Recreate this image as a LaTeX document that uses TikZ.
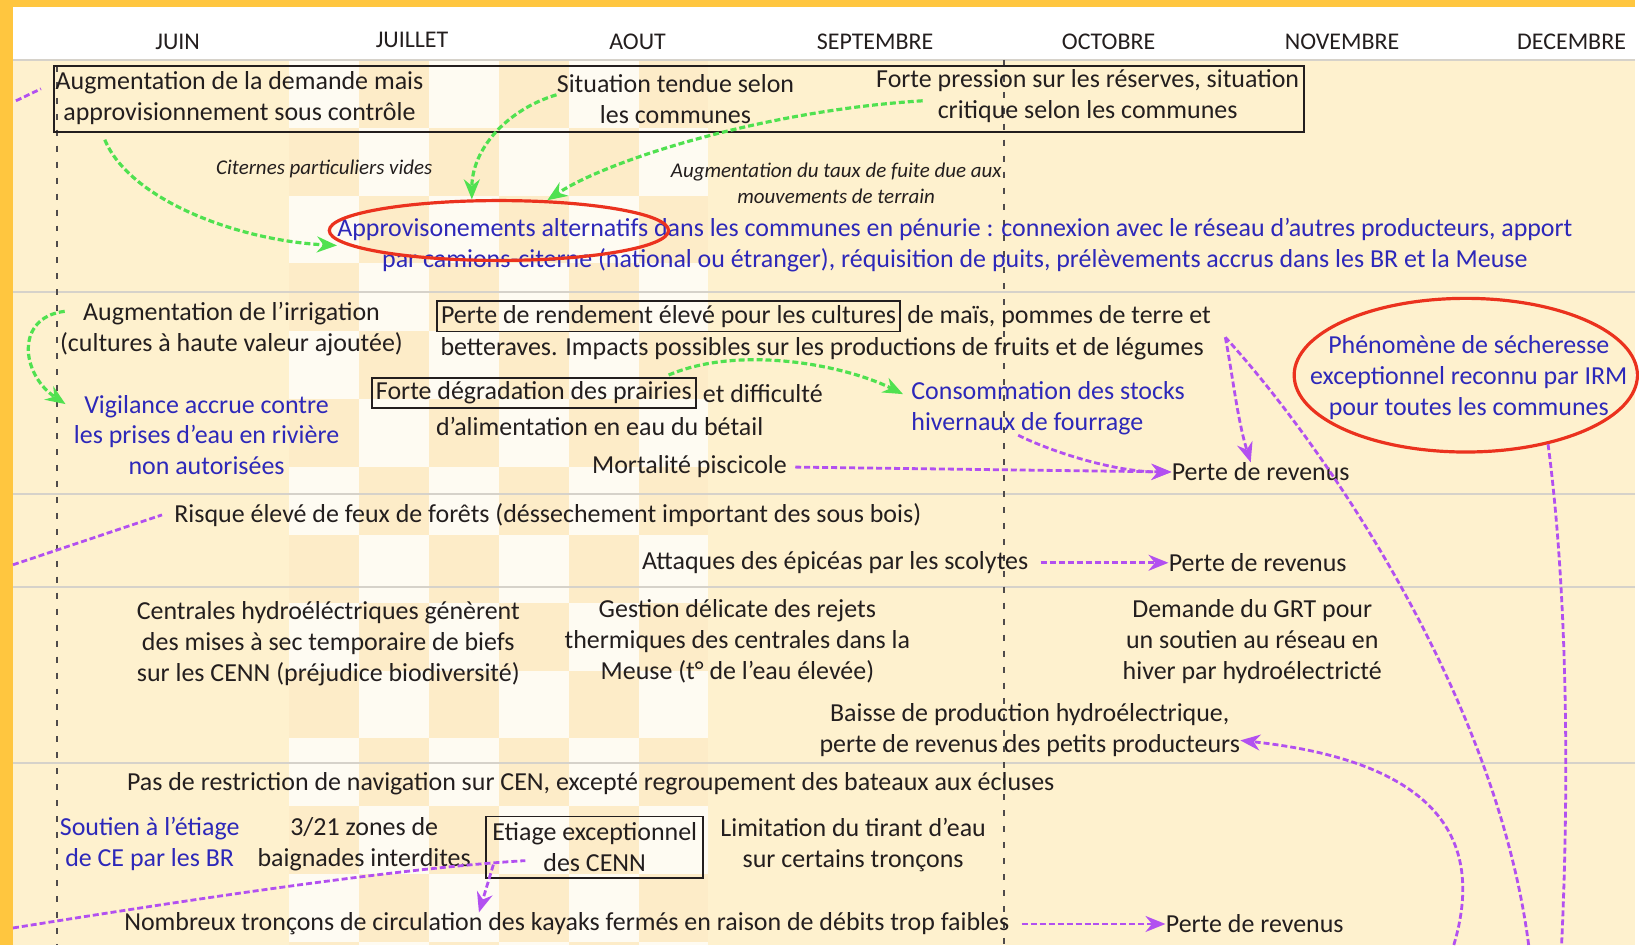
\documentclass[tikz,border=0pt]{standalone}
\usepackage{fontspec}
\setmainfont{Carlito}
\usepackage{tikz}
\usetikzlibrary{arrows.meta,positioning,shapes.geometric,calc}

\definecolor{jaune}{RGB}{255,198,63}
\definecolor{beige}{RGB}{254,241,206}
\definecolor{beigefonce}{RGB}{253,236,200}
\definecolor{trait}{RGB}{214,210,202}
\definecolor{encre}{RGB}{35,30,30}
\definecolor{bleuf}{RGB}{45,40,185}
\definecolor{vertclair}{RGB}{80,225,80}
\definecolor{violetf}{RGB}{178,80,240}
\definecolor{rougef}{RGB}{235,50,30}

\begin{document}
\begin{tikzpicture}[x=0.5pt, y=-0.5pt,
    txt/.style={align=center, inner sep=0pt, text=encre, font=\fontsize{13}{15.5}\selectfont},
    bleu/.style={txt, text=bleuf},
    cadre/.style={draw=encre, line width=0.9pt, inner sep=2pt},
    mois/.style={font=\fontsize{12}{14}\selectfont, text=encre},
    petit/.style={txt, font=\fontsize{10.5}{13}\selectfont\itshape},
    lienvert/.style={dash pattern=on 3pt off 1.5pt, line width=1.6pt, draw=vertclair},
    lienviolet/.style={dash pattern=on 3pt off 1.5pt, line width=1.4pt, draw=violetf},
    fleche/.style={-{Stealth[length=10pt,width=8pt]}},
    rouge/.style={draw=rougef, line width=1.6pt},
    pointille/.style={draw=encre!80, line width=1.1pt, dash pattern=on 3pt off 5pt}
]
    % Fond
    \fill[jaune] (0,0) rectangle (1639,947);
    \fill[white] (13,7) rectangle (1639,60);
    \fill[beige] (13,60) rectangle (1639,947);
    \begin{scope}
        \clip (13,60) rectangle (1639,947);
        \foreach \i in {0,...,5}{
            \foreach \j in {0,...,13}{
                \pgfmathtruncatemacro\p{mod(\i+\j,2)}
                \ifnum\p=0
                    \fill[white, opacity=0.75] (290+70*\i,60+68*\j) rectangle +(70,68);
                \else
                    \fill[beigefonce] (290+70*\i,60+68*\j) rectangle +(70,68);
                \fi
            }
        }
    \end{scope}
    \foreach \y in {60,293,495,588,765}
        \draw[trait, line width=1pt] (13,\y) -- (1639,\y);
    \draw[pointille] (57,66) -- (57,947);
    \draw[pointille] (1006,60) -- (1006,947);

    % Mois
    \node[mois] (juin) at (178,42) {JUIN};
    \node[mois] (juillet) at (413,40) {JUILLET};
    \node[mois] (aout) at (639,42) {AOUT};
    \node[mois] (septembre) at (877,42) {SEPTEMBRE};
    \node[mois] (octobre) at (1111,42) {OCTOBRE};
    \node[mois] (novembre) at (1345,42) {NOVEMBRE};
    \node[mois] (decembre) at (1575,42) {DECEMBRE};

    % Eau potable
    \node[cadre, minimum width=626.5pt, minimum height=33pt, inner sep=0pt] (cadre1) at (680.5,99) {};
    \node[txt] (demande) at (240,98) {Augmentation de la demande mais\\approvisionnement sous contrôle};
    \node[txt] (tendue) at (677,99) {Situation tendue selon\\les communes};
    \node[txt] (pression) at (1090,96) {Forte pression sur les réserves, situation\\critique selon les communes};
    \node[petit] (citernes) at (325,169) {Citernes particuliers vides};
    \node[petit] (fuite) at (838,184) {Augmentation du taux de fuite due aux\\mouvements de terrain};
    \node[bleu] (alternatifs) at (957,246) {Approvisonements alternatifs dans les communes en pénurie : connexion avec le réseau d'autres producteurs, apport\\par camions-citerne (national ou étranger), réquisition de puits, prélèvements accrus dans les BR et la Meuse};
    \node[ellipse, rouge, minimum width=170pt, minimum height=30pt, inner sep=0pt] (cercle) at (500,231) {};
    \coordinate (bordA) at (16,101);
    \draw[lienviolet] (bordA) -- ([shift={(-12,-10)}]cadre1.west);
    \draw[lienvert, fleche] ([shift={(-135,15)}]demande.south) .. controls +(25,60) and +(-100,-5) .. (alternatifs.west);
    \draw[lienvert, fleche] ([yshift=2pt]tendue.west) .. controls +(-50,15) and +(0,-50) .. (cercle.131);
    \draw[lienvert, fleche] ([shift={(47,5)}]pression.west) .. controls +(-160,10) and +(60,-40) .. (cercle.32);

    % Agriculture
    \node[txt] (irrigation) at (232,330) {Augmentation de l'irrigation\\(cultures à haute valeur ajoutée)};
    \node[bleu] (vigilance) at (207,436) {Vigilance accrue contre\\les prises d'eau en rivière\\non autorisées};
    \node[txt, cadre] (rendement) at (670,317) {Perte de rendement élevé pour les cultures};
    \node[txt, right=3pt of rendement] (mais) {de maïs, pommes de terre et};
    \node[txt] (betteraves) at (824,349) {betteraves. Impacts possibles sur les productions de fruits et de légumes};
    \node[txt, cadre] (prairies) at (535,394) {Forte dégradation des prairies};
    \node[txt, right=3pt of prairies] (difficulte) {et difficulté};
    \node[txt] (alimentation) at (601,427) {d'alimentation en eau du bétail};
    \node[bleu, align=left, anchor=west] (consommation) at (913,409) {Consommation des stocks\\hivernaux de fourrage};
    \node[txt] (piscicole) at (691,468) {Mortalité piscicole};
    \node[txt, anchor=west] (perte1) at (1174,473) {Perte de revenus};
    \node[ellipse, rouge, minimum width=172pt, minimum height=77pt, inner sep=0pt] (irm) at (1469,376) {};
    \node[bleu] (secheresse) at (1472,378) {Phénomène de sécheresse\\exceptionnel reconnu par IRM\\pour toutes les communes};
    \draw[lienvert, fleche] ([shift={(5,-18)}]irrigation.west) .. controls +(-50,6) and +(-45,-30) .. ([shift={(-8,-31)}]vigilance.west);
    \draw[lienvert, fleche] ([shift={(-28,-2)}]prairies.north east) .. controls +(70,-30) and +(-60,-30) .. ([shift={(-8,-14)}]consommation.west);
    \draw[lienviolet, fleche, shorten <=4pt] (piscicole.east) -- (perte1.west);
    \draw[lienviolet, fleche] ([xshift=-15pt]consommation.south) .. controls +(30,15) and +(-60,0) .. (perte1.west);
    \coordinate (coude) at (1228,338);
    \coordinate (basA) at (1532,947);
    \coordinate (basB) at (1457,947);
    \coordinate (basC) at (1565,947);
    \draw[lienviolet] (basA) .. controls (1500,700) and (1330,450) .. (coude);
    \draw[lienviolet, fleche] (coude) .. controls (1236,380) and (1240,420) .. ([xshift=-5pt]perte1.north);
    \draw[lienviolet] (irm.-40) .. controls (1572,600) and (1572,800) .. (basC);

    % Forets
    \coordinate (bordF) at (13,566);
    \node[txt] (risque) at (549,516) {Risque élevé de feux de forêts (déssechement important des sous bois)};
    \draw[lienviolet] (bordF) -- ([xshift=-6pt]risque.west);
    \node[txt] (scolytes) at (837,564) {Attaques des épicéas par les scolytes};
    \node[txt, anchor=west] (perte2) at (1171,564) {Perte de revenus};
    \draw[lienviolet, fleche, shorten <=6pt] (scolytes.east) -- (perte2.west);

    % Energie
    \node[txt] (centrales) at (329,645) {Centrales hydroéléctriques génèrent\\des mises à sec temporaire de biefs\\sur les CENN (préjudice biodiversité)};
    \node[txt] (gestion) at (739,643) {Gestion délicate des rejets\\thermiques des centrales dans la\\Meuse (t° de l'eau élevée)};
    \node[txt] (grt) at (1255,643) {Demande du GRT pour\\un soutien au réseau en\\hiver par hydroélectricté};
    \node[txt] (baisse) at (1032,732) {Baisse de production hydroélectrique,\\perte de revenus des petits producteurs};
    \draw[lienviolet, fleche] (basB) .. controls (1495,820) and (1410,760) .. ([yshift=-5pt]baisse.east);

    % Navigation et loisirs
    \node[txt] (navigation) at (592,785) {Pas de restriction de navigation sur CEN, excepté regroupement des bateaux aux écluses};
    \node[bleu] (soutien) at (150,846) {Soutien à l'étiage\\de CE par les BR};
    \node[txt] (baignades) at (365,846) {3/21 zones de\\baignades interdites};
    \node[txt, cadre, inner sep=3pt] (etiage) at (596,849) {Etiage exceptionnel\\des CENN};
    \node[txt] (tirant) at (855,847) {Limitation du tirant d'eau\\sur certains tronçons};
    \node[txt] (kayaks) at (568,926) {Nombreux tronçons de circulation des kayaks fermés en raison de débits trop faibles};
    \node[txt, anchor=west] (perte3) at (1168,926) {Perte de revenus};
    \draw[lienviolet, fleche, shorten <=6pt] (kayaks.east) -- (perte3.west);
    \coordinate (bordK) at (13,930);
    \draw[lienviolet] (bordK) .. controls (200,900) and (400,870) .. ([shift={(40,-18)}]etiage.south west);
    \draw[lienviolet, fleche] ([shift={(8,-14)}]etiage.south west) -- ([xshift=-44pt]kayaks.north);
\end{tikzpicture}
\end{document}
